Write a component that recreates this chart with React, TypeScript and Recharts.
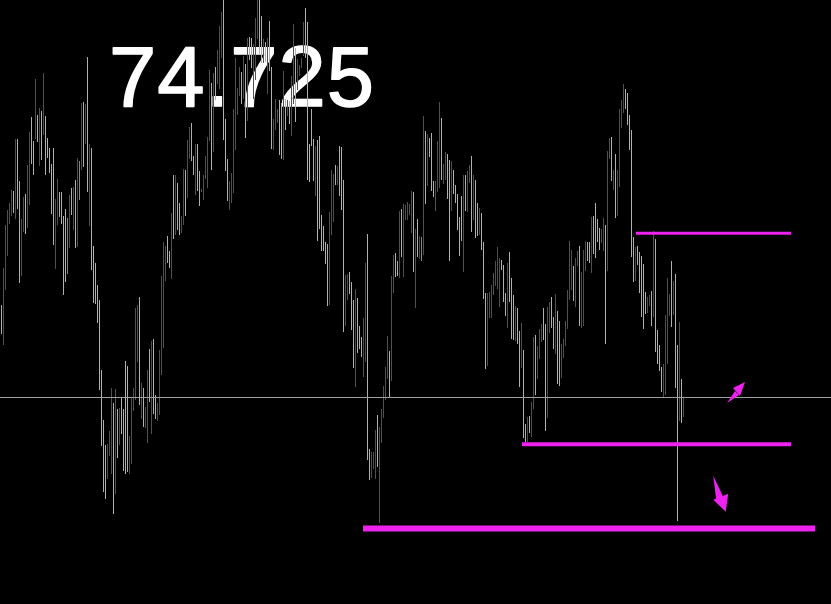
import { ComposedChart, Bar, XAxis, YAxis, ReferenceLine, ReferenceDot } from "recharts";

// price points are thousandths above BASE
const BASE = 74.117;
const BID = 74.725;

const hiPts = [
  699, 736, 778, 793, 800, 813, 812, 863, 863, 822,
  784, 806, 809, 837, 870, 885, 861, 922, 887, 894,
  891, 928, 886, 864, 854, 838, 854, 804, 824, 811,
  811, 787, 794, 785, 808, 815, 816, 823, 844, 841,
  898, 899, 897, 944, 858, 854, 757, 741, 719, 704,
  635, 586, 561, 562, 575, 617, 603, 616, 597, 598,
  608, 597, 644, 639, 570, 608, 617, 696, 699, 707,
  622, 617, 599, 635, 656, 664, 666, 611, 603, 655,
  728, 761, 757, 767, 753, 790, 827, 827, 820, 800,
  787, 833, 832, 862, 875, 879, 846, 858, 858, 831,
  814, 827, 846, 865, 931, 918, 928, 934, 951, 974,
  988, 1000, 883, 843, 822, 829, 893, 943, 913, 934,
  929, 945, 937, 963, 964, 963, 957, 982, 1000, 1000,
  984, 962, 959, 963, 979, 934, 883, 902, 893, 901,
  898, 930, 902, 901, 900, 925, 976, 953, 942, 936,
  943, 978, 992, 978, 858, 893, 863, 856, 862, 866,
  788, 777, 761, 759, 791, 832, 828, 837, 836, 856,
  855, 823, 729, 730, 732, 722, 704, 715, 706, 679,
  668, 686, 741, 769, 557, 554, 554, 576, 591, 579,
  597, 619, 638, 669, 654, 728, 749, 751, 743, 792,
  794, 799, 798, 801, 799, 812, 811, 774, 784, 767,
  766, 886, 871, 868, 864, 869, 822, 822, 861, 899,
  884, 838, 850, 848, 842, 841, 832, 818, 809, 786,
  807, 827, 827, 831, 837, 846, 827, 823, 800, 795,
  790, 761, 711, 711, 712, 719, 731, 743, 756, 746,
  744, 739, 711, 741, 752, 726, 709, 698, 696, 674,
  682, 655, 582, 589, 590, 604, 668, 670, 659, 676,
  681, 696, 681, 697, 702, 707, 687, 710, 693, 684,
  661, 666, 684, 714, 762, 754, 738, 746, 753, 757,
  732, 754, 762, 761, 761, 786, 787, 800, 784, 775,
  774, 785, 778, 851, 864, 865, 832, 848, 832, 893,
  901, 917, 912, 908, 887, 872, 766, 756, 757, 752,
  748, 740, 712, 707, 709, 713, 772, 764, 675, 660,
  638, 641, 689, 726, 710, 743, 723, 730, 660, 683,
  626, 609,
];

const loPts = [
  671, 660, 714, 748, 779, 787, 790, 784, 794, 721,
  728, 771, 769, 775, 798, 838, 827, 863, 860, 836,
  842, 867, 827, 844, 829, 789, 758, 735, 778, 786,
  779, 709, 722, 730, 755, 788, 773, 755, 756, 803,
  832, 835, 858, 811, 777, 734, 701, 700, 682, 615,
  560, 515, 508, 528, 550, 533, 493, 513, 548, 561,
  572, 536, 533, 535, 533, 543, 595, 606, 643, 601,
  587, 579, 578, 563, 604, 572, 592, 587, 585, 591,
  630, 657, 723, 741, 736, 725, 764, 768, 773, 768,
  770, 778, 787, 805, 843, 841, 827, 808, 812, 797,
  811, 803, 824, 815, 861, 832, 850, 901, 917, 912,
  943, 862, 831, 802, 793, 800, 810, 852, 887, 905,
  897, 902, 864, 881, 941, 933, 902, 921, 962, 947,
  938, 938, 939, 907, 930, 853, 852, 872, 879, 847,
  843, 842, 872, 886, 878, 866, 897, 880, 911, 925,
  933, 945, 943, 823, 821, 856, 822, 807, 762, 774,
  753, 753, 740, 698, 699, 768, 781, 818, 818, 807,
  793, 673, 679, 704, 710, 675, 637, 618, 652, 656,
  648, 628, 643, 546, 527, 529, 538, 528, 540, 484,
  563, 588, 606, 626, 608, 624, 711, 727, 728, 726,
  747, 727, 783, 783, 788, 770, 732, 696, 747, 745,
  743, 749, 799, 817, 845, 812, 806, 792, 811, 815,
  823, 819, 823, 804, 743, 792, 809, 800, 773, 748,
  762, 732, 792, 791, 820, 771, 783, 765, 767, 768,
  754, 705, 636, 639, 686, 686, 709, 718, 715, 697,
  734, 702, 688, 677, 702, 666, 665, 664, 661, 618,
  637, 568, 564, 564, 573, 569, 597, 611, 626, 646,
  663, 665, 575, 588, 672, 677, 656, 651, 621, 619,
  627, 647, 659, 676, 704, 714, 703, 697, 738, 679,
  677, 679, 733, 743, 741, 731, 750, 746, 761, 754,
  760, 753, 661, 733, 843, 822, 813, 785, 787, 816,
  874, 889, 893, 877, 852, 747, 722, 723, 739, 711,
  687, 676, 690, 691, 698, 679, 687, 653, 641, 634,
  614, 608, 611, 641, 688, 678, 689, 617, 486, 585,
  583, 589,
];

// c = up bar, r = down bar, g = unchanged
const dirs =
  "crrrrrcrcc" + "rrcrrccrcr" + "crcccccrrc" + "cccgrcrcrg" + "rcrcrccccc" +
  "cccrrrcrcr" + "ccccrrrrrc" + "rcrrcrccrr" + "rrrccrcrcc" + "rrcrrccrcc" +
  "rrrrrcrcrr" + "rcccrrrrrr" + "crcrccrrrc" + "crcrccrrrc" + "crcrcrrcrr" +
  "rrcccccrcc" + "ccccrrrcrc" + "ccrrcccrcc" + "crrccrrrcr" + "rrrrcrrccr" +
  "crrrrrcrcr" + "grcrcccrrr" + "crrccrcccc" + "crcrrcrccr" + "cccrrrrrrr" +
  "cccrcccrcc" + "rccrcrrcrr" + "rccrrccrcc" + "rrrrrrcrrc" + "rrrccrcccc" +
  "rrcrrcrcrr" + "rrcccccrcc" + "cccrrcrccc" + "crrrrcrccr" + "cr";

// horizontal levels (price, start bar, end bar)
const levelPrices = [74.887, 74.679, 74.596];
const levelFrom = [317.25, 260.25, 180.75];
const levelTo = [394.75, 394.75, 406.75];
const levelWidths = [3, 4, 6];

const COLORS: Record<string, string> = { c: "#35e4ea", r: "#e01212", g: "#22cc22" };
const MAGENTA = "#ee22ee";

const data = hiPts.map((h, i) => ({
  i,
  range: [BASE + loPts[i] / 1000, BASE + h / 1000],
  dir: dirs[i],
}));

const HLBar = (p: any) => {
  const cx = Math.floor(p.x + p.width / 2);
  return (
    <rect
      x={cx}
      y={p.y}
      width={1}
      height={Math.max(p.height, 1)}
      fill={COLORS[p.payload.dir]}
      shapeRendering="crispEdges"
    />
  );
};

const UpArrow = (p: any) => {
  const { cx, cy } = p;
  return (
    <g fill={MAGENTA}>
      <polygon points={`${cx + 1},${cy - 1} ${cx - 11},${cy + 5} ${cx - 4},${cy + 13}`} />
      <polygon points={`${cx - 17},${cy + 20} ${cx - 9},${cy + 8} ${cx - 5},${cy + 12}`} />
    </g>
  );
};

const DownArrow = (p: any) => {
  const { cx, cy } = p;
  return (
    <g fill={MAGENTA}>
      <polygon points={`${cx},${cy + 1} ${cx - 12.5},${cy - 11} ${cx + 2.5},${cy - 17}`} />
      <polygon points={`${cx - 12.5},${cy - 35} ${cx - 9.5},${cy - 11} ${cx - 2.5},${cy - 14}`} />
    </g>
  );
};

export default function App() {
  return (
    <div style={{ position: "relative", width: 831, height: 604, background: "#000" }}>
      <style>{"body{margin:0;background:#000}"}</style>
      <svg width={831} height={604} style={{ position: "absolute", left: 0, top: 0 }}>
        <text
          x={109}
          y={106}
          fill="#fff"
          stroke="#fff"
          strokeWidth={1.5}
          strokeLinejoin="round"
          fontSize={85}
          letterSpacing={1}
          fontFamily="'Liberation Sans', Arial, sans-serif"
        >
          {BID.toFixed(3)}
        </text>
      </svg>
      <div style={{ position: "absolute", left: 0, top: 0 }}>
        <ComposedChart width={831} height={604} data={data} margin={{ top: 0, right: 0, bottom: 0, left: 0 }}>
          <XAxis dataKey="i" type="number" domain={[-0.75, 414.75]} allowDataOverflow hide />
          <YAxis type="number" domain={[74.5215, 75.117]} allowDataOverflow hide />
          <ReferenceLine y={BID} stroke="#a0a0a0" strokeWidth={1} shapeRendering="crispEdges" />
          <Bar dataKey="range" barSize={1} shape={HLBar} isAnimationActive={false} />
          {levelPrices.map((p, k) => (
            <ReferenceLine
              key={k}
              segment={[{ x: levelFrom[k], y: p }, { x: levelTo[k], y: p }]}
              stroke={MAGENTA}
              strokeWidth={levelWidths[k]}
            />
          ))}
          <ReferenceDot x={371.25} y={74.7394} shape={UpArrow} />
          <ReferenceDot x={362.1} y={74.6135} shape={DownArrow} />
        </ComposedChart>
      </div>
    </div>
  );
}
